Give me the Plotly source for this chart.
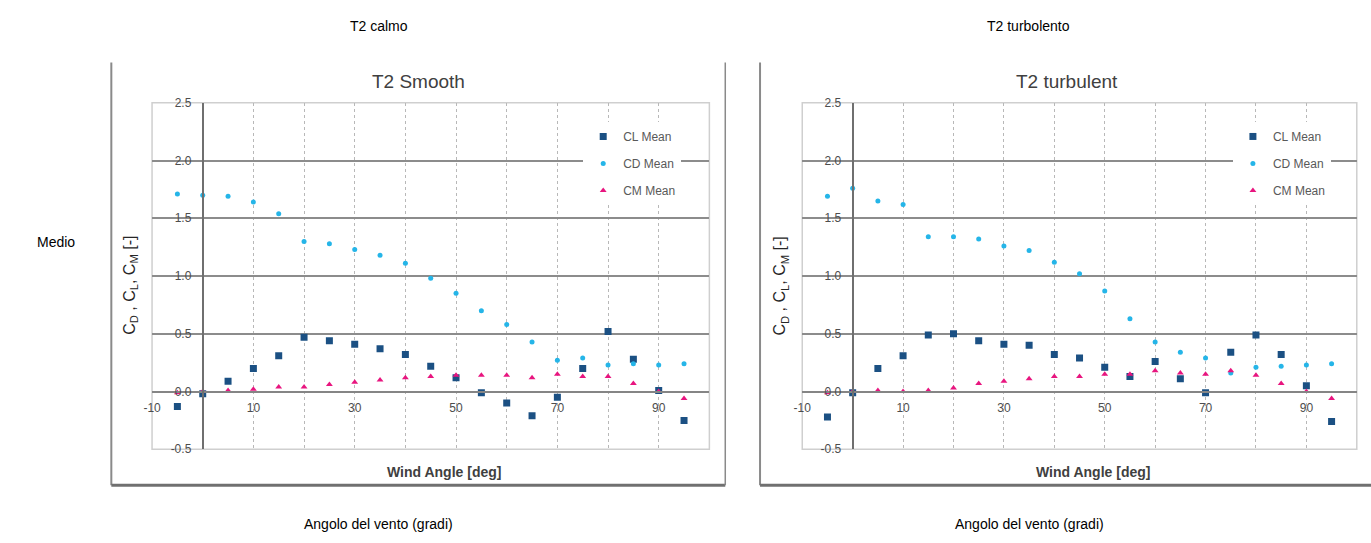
import plotly.graph_objects as go

# ---------------- data ----------------
angles = [-5, 0, 5, 10, 15, 20, 25, 30, 35, 40, 45, 50, 55, 60, 65, 70, 75, 80, 85, 90, 95]

smooth_cl = [-0.13, -0.02, 0.09, 0.20, 0.31, 0.47, 0.44, 0.41, 0.37, 0.32, 0.22, 0.12,
             -0.01, -0.10, -0.21, -0.05, 0.20, 0.52, 0.28, 0.01, -0.25]
smooth_cd = [1.71, 1.70, 1.69, 1.64, 1.54, 1.30, 1.28, 1.23, 1.18, 1.11, 0.98, 0.85,
             0.70, 0.58, 0.43, 0.27, 0.29, 0.23, 0.24, 0.23, 0.24]
smooth_cm = [-0.01, 0.00, 0.01, 0.02, 0.04, 0.04, 0.06, 0.08, 0.10, 0.12, 0.13, 0.14,
             0.14, 0.14, 0.12, 0.15, 0.13, 0.13, 0.07, 0.00, -0.06]

turb_cl = [-0.22, -0.01, 0.20, 0.31, 0.49, 0.50, 0.44, 0.41, 0.40, 0.32, 0.29, 0.21,
           0.13, 0.26, 0.11, -0.01, 0.34, 0.49, 0.32, 0.05, -0.26]
turb_cd = [1.69, 1.76, 1.65, 1.62, 1.34, 1.34, 1.32, 1.26, 1.22, 1.12, 1.02, 0.87,
           0.63, 0.43, 0.34, 0.29, 0.16, 0.21, 0.22, 0.23, 0.24]
turb_cm = [-0.01, 0.00, 0.01, 0.00, 0.01, 0.03, 0.07, 0.09, 0.11, 0.13, 0.13, 0.15,
           0.15, 0.18, 0.16, 0.15, 0.18, 0.14, 0.07, 0.00, -0.06]

series_names = ["CL Mean", "CD Mean", "CM Mean"]
x_tickvals = [-10, 10, 30, 50, 70, 90]
x_gridvals = [10, 20, 30, 40, 50, 60, 70, 80, 90]
y_tickvals = [-0.5, 0.0, 0.5, 1.0, 1.5, 2.0, 2.5]
y_ticktext = ["-0.5", "0.0", "0.5", "1.0", "1.5", "2.0", "2.5"]
y_gridvals = [0.0, 0.5, 1.0, 1.5, 2.0]

col_headers = ["T2 calmo", "T2 turbolento"]
row_header = "Medio"
bottom_label = "Angolo del vento (gradi)"
chart_titles = ["T2 Smooth", "T2 turbulent"]

# ---------------- layout helpers ----------------
W, H = 1371, 543
def px(x):
    return x / W
def py(y):
    return 1 - y / H

XR = [-10, 100]
YR = [-0.5, 2.5]
ydom = [py(454), py(98.3)]
xdoms = [[px(144), px(705)], [px(798.5), px(1356.7)]]

FONT = "Arial, 'Liberation Sans', sans-serif"
styles = [
    dict(symbol="square", size=7, color="#1b5083"),
    dict(symbol="circle", size=5, color="#25b5e8"),
    dict(symbol="triangle-up", size=6, color="#e8157f"),
]

fig = go.Figure()
datasets = [(smooth_cl, smooth_cd, smooth_cm), (turb_cl, turb_cd, turb_cm)]
for i, ds in enumerate(datasets):
    xa = "x" if i == 0 else "x2"
    ya = "y" if i == 0 else "y2"
    lg = "legend" if i == 0 else "legend2"
    for j, (vals, name) in enumerate(zip(ds, series_names)):
        fig.add_trace(go.Scatter(
            x=angles, y=vals, mode="markers", name=name,
            marker=dict(symbol=styles[j]["symbol"], size=styles[j]["size"],
                        color=styles[j]["color"], line=dict(width=0)),
            xaxis=xa, yaxis=ya, legend=lg, legendgroup=f"{lg}{j}",
            hoverinfo="skip",
        ))

def x_axis(dom, ypos):
    return dict(
        domain=dom, range=XR, anchor="free", position=ypos,
        tickmode="array", tickvals=x_tickvals, ticktext=[str(v) for v in x_tickvals],
        showgrid=False, zeroline=False,
        showline=True, linecolor="#858585", linewidth=2,
        ticks="", ticklabelstandoff=5,
        tickfont=dict(family=FONT, size=12, color="#4d4d4d"),
        minor=dict(tickmode="array", tickvals=x_gridvals, showgrid=True,
                   gridcolor="#b8b8b8", gridwidth=1, griddash="dot", ticks=""),
        fixedrange=True,
    )

def y_axis(xpos):
    return dict(
        domain=ydom, range=YR, anchor="free", position=xpos,
        tickmode="array", tickvals=y_tickvals, ticktext=y_ticktext,
        showgrid=False, zeroline=False,
        showline=True, linecolor="#6f6f6f", linewidth=2,
        ticks="", ticklabelstandoff=8,
        tickfont=dict(family=FONT, size=12, color="#4d4d4d"),
        minor=dict(tickmode="array", tickvals=y_gridvals, showgrid=True,
                   gridcolor="#8c8c8c", gridwidth=2, ticks=""),
        fixedrange=True,
    )

y0pos = ydom[0] + (0 - YR[0]) / (YR[1] - YR[0]) * (ydom[1] - ydom[0])
x0pos = [d[0] + (0 - XR[0]) / (XR[1] - XR[0]) * (d[1] - d[0]) for d in xdoms]

legend_common = dict(
    bgcolor="white", borderwidth=0, xanchor="left", yanchor="top",
    font=dict(family=FONT, size=12, color="#595959"),
    tracegroupgap=8, traceorder="grouped", itemclick=False, itemdoubleclick=False,
    itemwidth=30,
)

fig.update_layout(
    width=W, height=H, margin=dict(l=0, r=0, t=0, b=0),
    paper_bgcolor="white", plot_bgcolor="white",
    showlegend=True, hovermode=False,
    xaxis=x_axis(xdoms[0], y0pos),
    yaxis=y_axis(x0pos[0]),
    xaxis2=x_axis(xdoms[1], y0pos),
    yaxis2=y_axis(x0pos[1]),
    legend=dict(x=px(578), y=py(118), **legend_common),
    legend2=dict(x=px(1232), y=py(118), **legend_common),
)

shapes = []
# plot-area borders
for xa, ya in (("x", "y"), ("x2", "y2")):
    shapes.append(dict(type="rect", xref=f"{xa} domain", yref=f"{ya} domain",
                       x0=0, x1=1, y0=0, y1=1, line=dict(color="#cfcfcf", width=1.5),
                       layer="below"))
# picture frames (embedded images in the table)
frame_col = "#8a8a8a"
for (x0, x1, right) in ((103, 721, True), (756, 1371, False)):
    shapes.append(dict(type="line", xref="paper", yref="paper",
                       x0=px(x0), x1=px(x0), y0=py(57), y1=py(491),
                       line=dict(color=frame_col, width=2)))
    shapes.append(dict(type="line", xref="paper", yref="paper",
                       x0=px(x0), x1=px(x1), y0=py(491), y1=py(491),
                       line=dict(color="#707070", width=3)))
    if right:
        shapes.append(dict(type="line", xref="paper", yref="paper",
                           x0=px(x1), x1=px(x1), y0=py(57), y1=py(491),
                           line=dict(color=frame_col, width=1.5)))
fig.update_layout(shapes=shapes)

ann = []
def add_text(text, x, y, size, color="#000000", angle=0):
    ann.append(dict(text=text, x=px(x), y=py(y), xref="paper", yref="paper",
                    xanchor="center", yanchor="middle", showarrow=False,
                    textangle=angle, font=dict(family=FONT, size=size, color=color)))

add_text(col_headers[0], 372, 20, 14)
add_text(col_headers[1], 1026, 20, 14)
add_text(row_header, 47, 241, 14)
add_text(bottom_label, 372, 531, 14)
add_text(bottom_label, 1027, 531, 14)
add_text(chart_titles[0], 412, 76, 19, "#404040")
add_text(chart_titles[1], 1065, 76, 19, "#404040")
ytitle = "C<sub>D</sub> , C<sub>L</sub>, C<sub>M</sub> [-]"
add_text(ytitle, 122, 286, 16, "#262626", -90)
add_text(ytitle, 777, 286, 16, "#262626", -90)
add_text("<b>Wind Angle [deg]</b>", 438, 477, 14, "#404040")
add_text("<b>Wind Angle [deg]</b>", 1091, 477, 14, "#404040")
fig.update_layout(annotations=ann)

fig.write_html(
    "out.html",
    config={"displayModeBar": False, "staticPlot": True},
    post_script="document.body.style.margin='0';document.body.style.padding='0';"
                "document.body.style.overflow='hidden';",
)
